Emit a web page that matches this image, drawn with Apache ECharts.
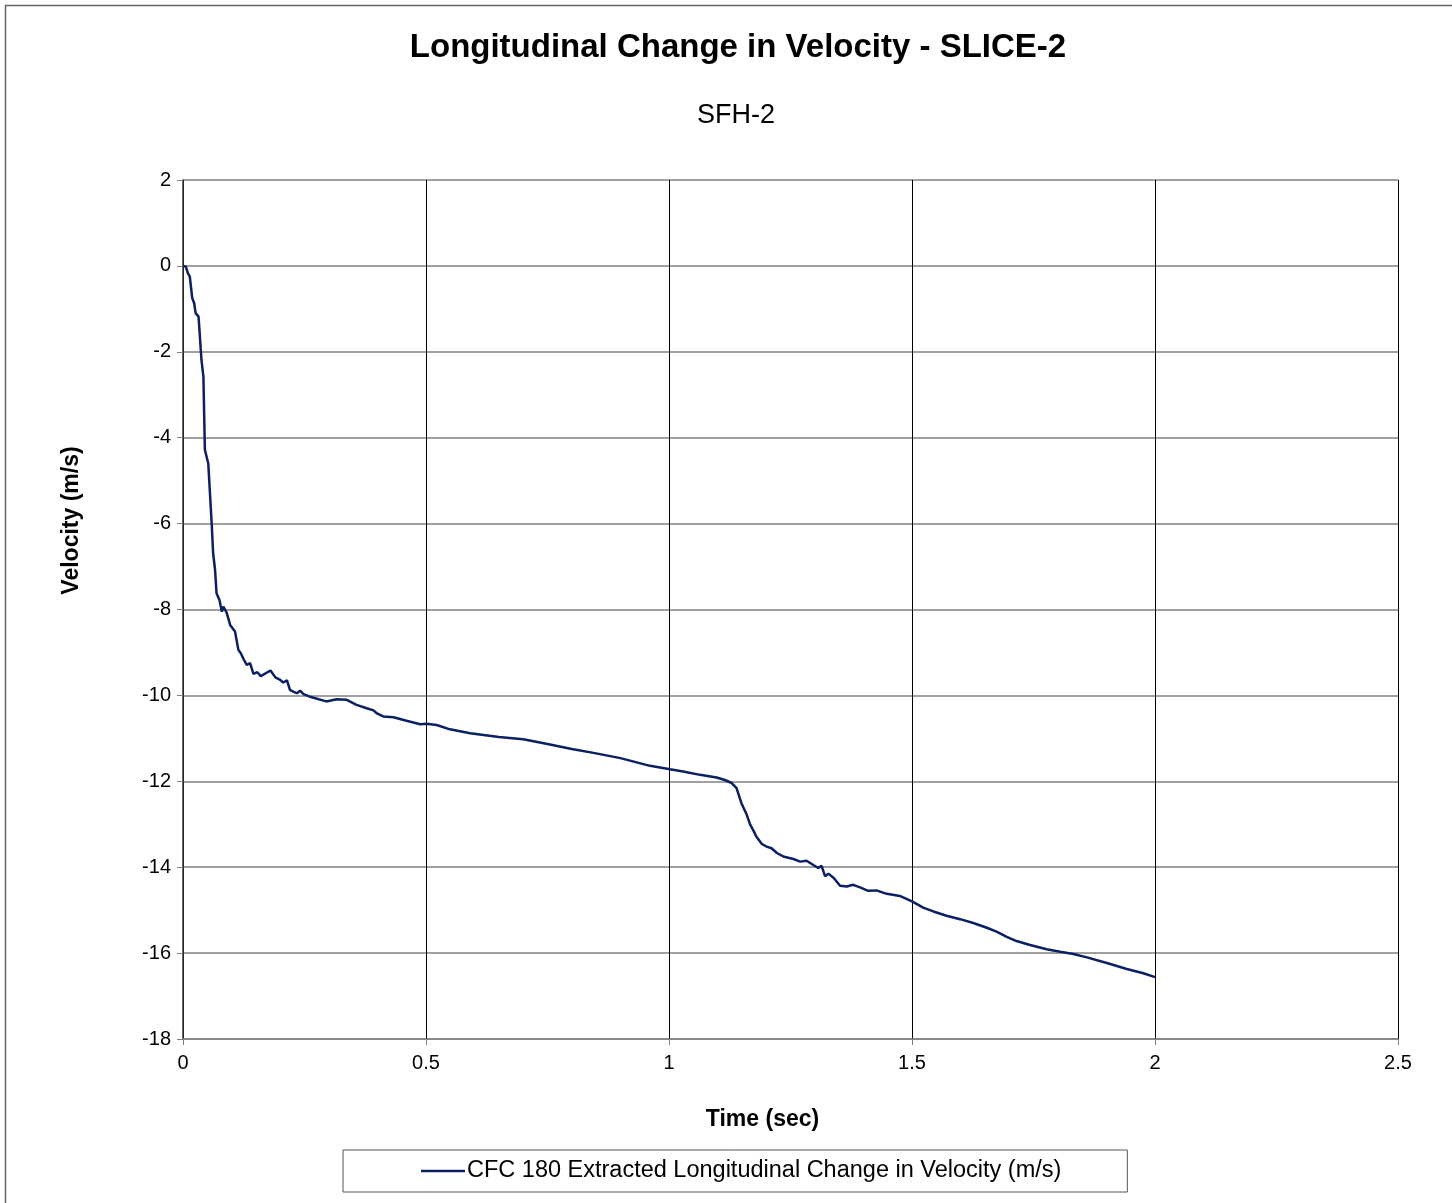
<!DOCTYPE html>
<html>
<head>
<meta charset="utf-8">
<script src="https://cdn.jsdelivr.net/npm/echarts@6/dist/echarts.min.js"></script>
<style>
html,body{margin:0;padding:0;background:#fff;}
#chart{width:1452px;height:1203px;}
</style>
</head>
<body>
<div id="chart"></div>
<script>
var titleText = "Longitudinal Change in Velocity - SLICE-2";
var subtitleText = "SFH-2";
var xAxisName = "Time (sec)";
var yAxisName = "Velocity (m/s)";
var seriesName = "CFC 180 Extracted Longitudinal Change in Velocity (m/s)";

var timeSec = [0,0.006,0.010,0.013,0.014,0.019,0.023,0.026,0.028,0.032,0.038,0.042,0.045,0.049,0.052,0.059,0.062,0.066,0.069,0.075,0.080,0.083,0.087,0.090,0.097,0.107,0.114,0.119,0.124,0.131,0.138,0.145,0.153,0.160,0.180,0.190,0.200,0.206,0.214,0.220,0.227,0.234,0.241,0.248,0.261,0.295,0.316,0.336,0.357,0.378,0.392,0.398,0.412,0.433,0.460,0.488,0.501,0.522,0.549,0.591,0.65,0.70,0.75,0.80,0.85,0.90,0.961,1.002,1.029,1.064,1.098,1.115,1.129,1.139,1.149,1.160,1.167,1.173,1.180,1.191,1.201,1.211,1.222,1.235,1.256,1.270,1.283,1.297,1.307,1.314,1.318,1.321,1.328,1.339,1.352,1.366,1.379,1.393,1.410,1.427,1.448,1.475,1.501,1.523,1.544,1.571,1.599,1.626,1.654,1.674,1.695,1.715,1.743,1.777,1.805,1.832,1.860,1.901,1.942,1.976,2.000];
var velocity = [0,-0.02,-0.17,-0.16,-0.25,-0.75,-0.87,-1.10,-1.06,-1.18,-2.19,-2.58,-4.28,-4.32,-4.60,-5.99,-6.69,-7.08,-7.62,-7.78,-8.05,-7.93,-7.91,-8.08,-8.36,-8.51,-8.94,-9.02,-9.14,-9.29,-9.25,-9.50,-9.46,-9.55,-9.42,-9.58,-9.64,-9.70,-9.65,-9.87,-9.91,-9.95,-9.89,-9.97,-10.03,-10.14,-10.09,-10.10,-10.22,-10.30,-10.35,-10.41,-10.49,-10.51,-10.59,-10.67,-10.66,-10.69,-10.79,-10.88,-10.97,-11.02,-11.13,-11.25,-11.35,-11.46,-11.64,-11.72,-11.77,-11.85,-11.91,-11.97,-12.04,-12.16,-12.51,-12.78,-13.01,-13.13,-13.29,-13.46,-13.52,-13.56,-13.67,-13.75,-13.81,-13.87,-13.85,-13.95,-14.02,-13.97,-13.98,-14.21,-14.15,-14.25,-14.43,-14.45,-14.41,-14.47,-14.55,-14.54,-14.62,-14.67,-14.80,-14.94,-15.03,-15.13,-15.21,-15.30,-15.41,-15.50,-15.62,-15.72,-15.81,-15.91,-15.97,-16.02,-16.10,-16.23,-16.37,-16.47,-16.56];

var xMin = 0, xMax = 2.5, xStep = 0.5;
var yMin = -18, yMax = 2, yStep = 2;

var pts = timeSec.map(function(t,i){ return [t, velocity[i]]; });
var font = "Arial, 'Liberation Sans', sans-serif";
var lineColor = '#0c1f63';

var chart = echarts.init(document.getElementById('chart'), null, {renderer:'canvas'});
chart.setOption({
  backgroundColor: '#fff',
  animation: false,
  textStyle: {fontFamily: font, color: '#000'},
  graphic: [{
    type: 'rect', x: 0, y: 0, silent: true,
    shape: {x: 5.5, y: 5.5, width: 1500, height: 1250},
    style: {fill: 'none', stroke: '#666', lineWidth: 1.5}
  }],
  title: [{
    text: titleText, left: 733, top: 26, textAlign: 'center',
    textStyle: {fontFamily: font, fontSize: 33, fontWeight: 'bold', color: '#000'}
  },{
    text: subtitleText, left: 731, top: 97, textAlign: 'center',
    textStyle: {fontFamily: font, fontSize: 27, fontWeight: 'normal', color: '#000'}
  }],
  legend: {
    data: [{name: seriesName, icon: 'rect'}], left: 343, top: 1150,
    padding: [9, 66, 9, 78],
    borderColor: '#555', borderWidth: 1,
    itemWidth: 44, itemHeight: 2.5, itemGap: 0,
    itemStyle: {color: lineColor},
    textStyle: {fontFamily: font, fontSize: 23.5, color: '#000', padding: [0,0,0,-3]}
  },
  grid: {left: 183, right: 54, top: 180, bottom: 164, containLabel: false},
  xAxis: {
    type: 'value', min: xMin, max: xMax, interval: xStep,
    name: xAxisName, nameLocation: 'middle', nameGap: 69,
    nameTextStyle: {fontFamily: font, fontSize: 23, fontWeight: 'bold', color: '#000', padding: [0, 56, 0, 0]},
    axisLine: {onZero: false, lineStyle: {color: '#808080', width: 1.5}},
    axisTick: {show: true, length: 6, lineStyle: {color: '#808080'}},
    axisLabel: {fontFamily: font, fontSize: 20, color: '#000', margin: 14},
    splitLine: {show: true, lineStyle: {color: '#000', width: 1}}
  },
  yAxis: {
    type: 'value', min: yMin, max: yMax, interval: yStep,
    name: yAxisName, nameLocation: 'middle', nameGap: 100, nameRotate: 90,
    nameTextStyle: {fontFamily: font, fontSize: 23, fontWeight: 'bold', color: '#000', padding: [0, 0, 0, 178]},
    axisLine: {show: true, onZero: false, lineStyle: {color: '#333', width: 1.5}},
    axisTick: {show: true, length: 6, lineStyle: {color: '#808080'}},
    axisLabel: {fontFamily: font, fontSize: 20, color: '#000', margin: 12},
    splitLine: {show: true, lineStyle: {color: '#808080', width: 1.5}}
  },
  series: [{
    name: seriesName, type: 'line', data: pts,
    symbol: 'none', showSymbol: false, smooth: false,
    lineStyle: {color: lineColor, width: 2.5},
    itemStyle: {color: lineColor}
  }]
});
</script>
</body>
</html>
